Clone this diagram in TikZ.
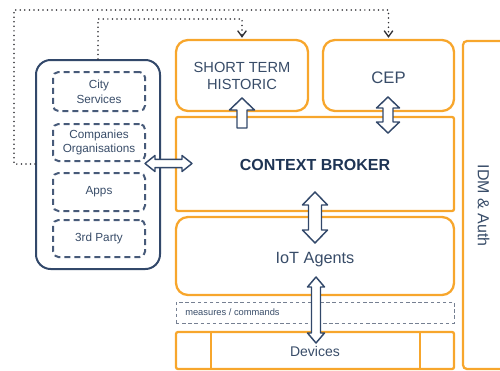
\documentclass[tikz,border=0pt]{standalone}
\usepackage{fontspec}
\setmainfont{Liberation Sans}
\usetikzlibrary{fit,arrows.meta}
\definecolor{fwor}{RGB}{247,166,44}
\definecolor{fwnavy}{RGB}{50,72,106}
\definecolor{fwtext}{RGB}{56,76,104}
\definecolor{fwdark}{RGB}{30,52,84}
\definecolor{fwgray}{RGB}{118,128,146}
\definecolor{fwdot}{RGB}{50,50,55}
% vertical double block arrow: x, ytop, ybot, half shaft, half head, head length
\newcommand\blkv[6]{%
  \draw[barrow] (#1,#2) -- ({#1+#5},{#2+#6}) -- ({#1+#4},{#2+#6}) -- ({#1+#4},{#3-#6})
    -- ({#1+#5},{#3-#6}) -- (#1,#3) -- ({#1-#5},{#3-#6}) -- ({#1-#4},{#3-#6})
    -- ({#1-#4},{#2+#6}) -- ({#1-#5},{#2+#6}) -- cycle;}
% horizontal double block arrow: y, xleft, xright, half shaft, half head, head length
\newcommand\blkh[6]{%
  \draw[barrow] (#2,#1) -- ({#2+#6},{#1-#5}) -- ({#2+#6},{#1-#4}) -- ({#3-#6},{#1-#4})
    -- ({#3-#6},{#1-#5}) -- (#3,#1) -- ({#3-#6},{#1+#5}) -- ({#3-#6},{#1+#4})
    -- ({#2+#6},{#1+#4}) -- ({#2+#6},{#1+#5}) -- cycle;}
% single up block arrow: x, ytop, ybot, half shaft, half head, head length
\newcommand\blkup[6]{%
  \draw[barrow] (#1,#2) -- ({#1+#5},{#2+#6}) -- ({#1+#4},{#2+#6}) -- ({#1+#4},#3)
    -- ({#1-#4},#3) -- ({#1-#4},{#2+#6}) -- ({#1-#5},{#2+#6}) -- cycle;}
\begin{document}
\begin{tikzpicture}[x=0.75pt,y=-0.75pt,
  obox/.style={draw=fwor, line width=1.7pt, rounded corners=9pt, inner sep=0pt},
  sqbox/.style={obox, rounded corners=1.5pt},
  navybox/.style={draw=fwnavy, line width=1.5pt, rounded corners=11pt, inner sep=0pt},
  dbox/.style={draw=fwnavy!90, line width=1.5pt, dash pattern=on 4.5pt off 3pt,
    rounded corners=4pt, inner sep=0pt},
  mbox/.style={draw=fwgray, line width=0.7pt, dash pattern=on 2.6pt off 2pt, inner sep=0pt},
  lbl/.style={text=fwtext, align=center, inner sep=0pt, font=\fontsize{11}{13}\selectfont},
  slbl/.style={lbl, font=\fontsize{8.8}{11}\selectfont},
  dotline/.style={draw=fwdot, line width=1.3pt, line cap=round, dash pattern=on 0pt off 3.4pt},
  barrow/.style={draw=fwnavy, fill=white, line width=1.1pt, line join=round}]
\useasboundingbox (0,0) rectangle (500,371);
\clip (0,0) rectangle (500,371);

% left group
\node[navybox, fit={(36,60)(160,269)}] (lb) {};
\node[dbox, fit={(53,72)(145,111)}] (city) {};
\node[dbox, fit={(53,124)(145,161)}] (comp) {};
\node[dbox, fit={(53,173)(145,211)}] (apps) {};
\node[dbox, fit={(53,220)(145,257)}] (third) {};
\node[slbl] (cityt) at (city.center) {City\\Services};
\node[slbl] (compt) at (comp.center) {Companies\\Organisations};
\node[slbl] (appst) at (apps.center) {Apps};
\node[slbl] (thirdt) at (third.center) {3rd Party};

% right stack
\node[obox, fit={(176,40)(308,111)}] (hist) {};
\node[obox, fit={(323,40)(454,111)}] (cep) {};
\node[sqbox, fit={(176,117)(454,211)}] (cb) {};
\node[obox, fit={(176,217)(454,295)}] (iot) {};
\node[mbox, fit={(176,302)(454,323)}] (meas) {};
\node[sqbox, fit={(176,332)(454,369)}] (dev) {};
\draw[draw=fwor, line width=1.7pt] (211,332) -- (211,369) (420,332) -- (420,369);
\node[sqbox, fit={(463,41)(530,369)}, rounded corners=3pt] (idm) {};

\node[lbl] (histt) at ([yshift=-0.5pt]hist.center) {SHORT TERM\\HISTORIC};
\node[lbl, anchor=base, font=\fontsize{12.5}{14}\selectfont] (cept) at (388.5,83) {CEP};
\node[lbl, anchor=base, font=\fontsize{12}{14}\selectfont\bfseries, text=fwdark] (cbt) at (315,170) {CONTEXT BROKER};
\node[lbl, anchor=base, font=\fontsize{12.2}{14}\selectfont] (iott) at (315,263) {IoT Agents};
\node[lbl, anchor=west, font=\fontsize{7}{8}\selectfont] (meast) at (185,312.5) {measures / commands};
\node[lbl, anchor=base, font=\fontsize{10.5}{12}\selectfont] (devt) at (315,356.5) {Devices};
\node[lbl, rotate=-90, font=\fontsize{12}{14}\selectfont] (idmt) at (483.5,205.5) {IDM \& Auth};

% dotted connectors
\draw[dotline, -{Straight Barb[length=4.5pt,width=6.5pt,line width=1pt]}]
  (lb.west |- cb.center) -- (14,164) -- (14,10) -| ([yshift=0.8pt]cep.north);
\draw[dotline, -{Straight Barb[length=4.5pt,width=6.5pt,line width=1pt]}]
  (lb.north) -- (98,19) -| ([yshift=0.8pt]hist.north);

% block arrows
\blkup{242}{98}{128}{5}{12.5}{12}
\blkv{388}{97}{133}{5}{11.5}{11}
\blkh{163.5}{145}{192}{4.2}{8}{10}
\blkv{315}{192}{243}{6.5}{12.5}{13}
\blkv{316}{277}{343}{4.5}{8.5}{10}
\end{tikzpicture}
\end{document}
